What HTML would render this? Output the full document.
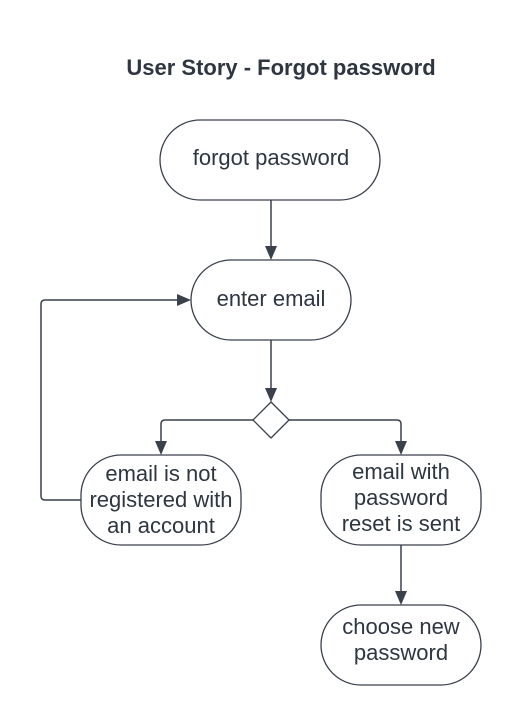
<!DOCTYPE html>
<html><head><style>
body{margin:0;background:#fff;}
svg{display:block;font-family:"Liberation Sans",sans-serif;}
text{fill:#2f3640;font-size:22px;text-anchor:middle;}
.s{fill:#fff;stroke:#3a414b;stroke-width:1.3;}
.l{fill:none;stroke:#3a414b;stroke-width:1.5;}
.a{fill:#3a414b;}
</style></head><body>
<svg width="521" height="720" viewBox="0 0 521 720">
<rect width="521" height="720" fill="#fff"/>
<text x="281" y="75" style="font-weight:bold;font-size:22px">User Story - Forgot password</text>
<rect class="s" x="160" y="120" width="220" height="80" rx="40"/>
<text x="271" y="165">forgot password</text>
<rect class="s" x="191" y="260" width="160" height="80" rx="40"/>
<text x="271" y="306">enter email</text>
<path class="s" d="M271 402 L289 420 L271 438 L253 420 Z" stroke-linejoin="round"/>
<rect class="s" x="81" y="455" width="160" height="90" rx="40"/>
<text x="161" y="481">email is not</text>
<text x="161" y="507">registered with</text>
<text x="161" y="533">an account</text>
<rect class="s" x="321" y="455" width="160" height="90" rx="40"/>
<text x="401" y="479">email with</text>
<text x="401" y="505">password</text>
<text x="401" y="531">reset is sent</text>
<rect class="s" x="321" y="605" width="160" height="80" rx="40"/>
<text x="401" y="634">choose new</text>
<text x="401" y="660">password</text>
<path class="l" d="M271 200 V248"/><path class="a" d="M265 246 L277 246 L271 260 Z"/>
<path class="l" d="M271 340 V390"/><path class="a" d="M265 388 L277 388 L271 402 Z"/>
<path class="l" d="M253 420 H165 Q161 420 161 424 V444"/><path class="a" d="M155 441 L167 441 L161 455 Z"/>
<path class="l" d="M289 420 H397 Q401 420 401 424 V444"/><path class="a" d="M395 441 L407 441 L401 455 Z"/>
<path class="l" d="M401 545 V594"/><path class="a" d="M395 591 L407 591 L401 605 Z"/>
<path class="l" d="M81 500 H45 Q41 500 41 496 V304 Q41 300 45 300 H180"/><path class="a" d="M177 294 L177 306 L191 300 Z"/>
</svg>
</body></html>
